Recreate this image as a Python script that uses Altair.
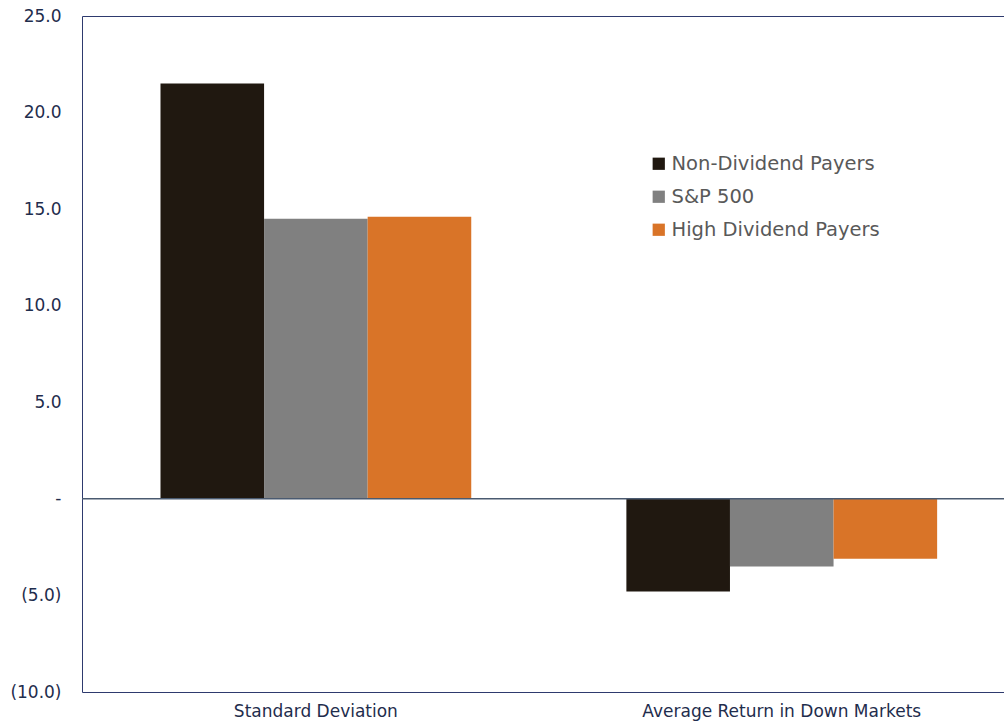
import altair as alt
import pandas as pd

categories = ["Standard Deviation", "Average Return in Down Markets"]
series = ["Non-Dividend Payers", "S&P 500", "High Dividend Payers"]
non_dividend = [21.5, -4.8]
sp500 = [14.5, -3.5]
high_dividend = [14.6, -3.1]
colors = ["#201810", "#808080", "#D97428"]

rows = []
for vals, s in zip([non_dividend, sp500, high_dividend], series):
    for c, v in zip(categories, vals):
        rows.append({"category": c, "series": s, "value": v})
df = pd.DataFrame(rows)

FONT = "DejaVu Sans"
NAVY = "#1F2D4D"

bars = alt.Chart(df).mark_bar().encode(
    x=alt.X("category:N", sort=categories, title=None,
            scale=alt.Scale(paddingInner=0.333, paddingOuter=0.156, align=0.54),
            axis=alt.Axis(labelAngle=0, ticks=False, domain=False, labelPadding=11,
                          labelFontSize=17, labelColor=NAVY, labelFont=FONT, labelLimit=0)),
    xOffset=alt.XOffset("series:N", sort=series, scale=alt.Scale(paddingInner=0, paddingOuter=0)),
    y=alt.Y("value:Q", title=None,
            scale=alt.Scale(domain=[-10, 25], nice=False, zero=False),
            axis=alt.Axis(values=[-10, -5, 0, 5, 10, 15, 20, 25], grid=False, ticks=False,
                          domain=False, labelPadding=21, labelFontSize=17,
                          labelColor=NAVY, labelFont=FONT, labelLimit=0,
                          labelExpr="datum.value == 0 ? '-' : (datum.value < 0 ? '(' + format(-datum.value, '.1f') + ')' : format(datum.value, '.1f'))")),
    color=alt.Color("series:N", sort=series,
                    scale=alt.Scale(domain=series, range=colors),
                    legend=alt.Legend(title=None, orient="none", legendX=567, legendY=138,
                                      symbolType="square", symbolSize=150, symbolStrokeWidth=0,
                                      labelFontSize=19.5, labelColor="#595959", labelFont=FONT,
                                      labelLimit=0, rowPadding=12, labelOffset=3)),
)

zero = alt.Chart(pd.DataFrame({"y": [0]})).mark_rule(color="#4A5A70", strokeWidth=1.5).encode(
    y=alt.Y("y:Q", scale=alt.Scale(domain=[-10, 25], nice=False, zero=False))
)

chart = alt.layer(bars, zero).properties(
    width=922, height=676,
    autosize=alt.AutoSizeParams(type="none"),
    padding={"left": 82, "top": 16, "right": 0, "bottom": 31},
    background="white",
).configure_view(stroke="#2E3A6E", strokeWidth=1)

chart.save("out.html", embed_options={"renderer": "svg", "actions": False})
